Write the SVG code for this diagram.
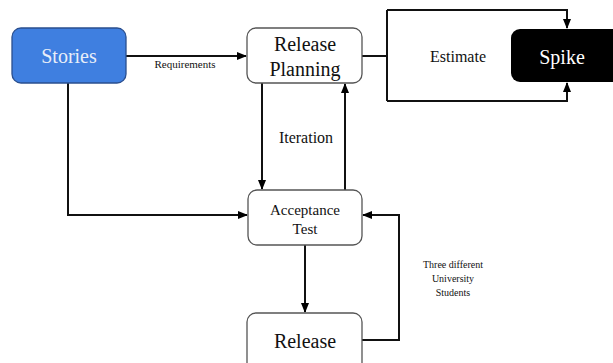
<svg xmlns="http://www.w3.org/2000/svg" width="613" height="363" viewBox="0 0 613 363">
<defs>
<marker id="ah" markerWidth="10" markerHeight="8" refX="9" refY="4" orient="auto" markerUnits="userSpaceOnUse">
<path d="M0,0 L10,4 L0,8 Z" fill="#000"/>
</marker>
<style>
.box{fill:#fff;stroke:#555;stroke-width:1.3}
.ln{fill:none;stroke:#111;stroke-width:2}
.t{fill:#111;text-anchor:middle}
</style>
</defs>
<rect width="613" height="363" fill="#fff"/>
<g id="connectors">
<path class="ln" d="M126,56 H246" marker-end="url(#ah)"/>
<path class="ln" d="M362,56 H387 M387,10 V101"/>
<path class="ln" d="M387,10 H567 V28" marker-end="url(#ah)"/>
<path class="ln" d="M387,101 H567 V83" marker-end="url(#ah)"/>
<path class="ln" d="M68,83 V215 H247" marker-end="url(#ah)"/>
<path class="ln" d="M262,83 V189" marker-end="url(#ah)"/>
<path class="ln" d="M345,190 V84" marker-end="url(#ah)"/>
<path class="ln" d="M305,245 V312" marker-end="url(#ah)"/>
<path class="ln" d="M362,340 H399 V215 H363" marker-end="url(#ah)"/>
</g>
<g font-family="Liberation Serif, Times New Roman, serif">
<text class="t" x="185" y="68" font-size="11">Requirements</text>
<text class="t" x="458" y="62" font-size="16">Estimate</text>
<text class="t" x="306" y="143" font-size="16">Iteration</text>
<text class="t" x="453" y="268" font-size="10">Three different</text>
<text class="t" x="453" y="282" font-size="10">University</text>
<text class="t" x="453" y="296" font-size="10">Students</text>
</g>
<g id="stories" font-family="Liberation Serif, Times New Roman, serif">
<rect x="12" y="28" width="114" height="55" rx="9" fill="#3f7fe0" stroke="#2a4f8f" stroke-width="1.3"/>
<text class="t" x="69" y="63" font-size="20" style="fill:#e8eef8">Stories</text>
</g>
<g id="release-planning" font-family="Liberation Serif, Times New Roman, serif">
<rect class="box" x="247" y="28" width="115" height="55" rx="9"/>
<text class="t" x="305" y="51" font-size="20">Release</text>
<text class="t" x="305" y="76" font-size="20">Planning</text>
</g>
<g id="spike" font-family="Liberation Serif, Times New Roman, serif">
<rect x="511" y="29" width="120" height="53" rx="9" fill="#000"/>
<text class="t" x="562" y="64" font-size="20" style="fill:#fff">Spike</text>
</g>
<g id="acceptance-test" font-family="Liberation Serif, Times New Roman, serif">
<rect class="box" x="248" y="190" width="114" height="55" rx="9"/>
<text class="t" x="305" y="215" font-size="15">Acceptance</text>
<text class="t" x="305" y="234" font-size="15">Test</text>
</g>
<g id="release" font-family="Liberation Serif, Times New Roman, serif">
<rect class="box" x="247" y="313" width="115" height="60" rx="9"/>
<text class="t" x="305" y="348" font-size="20">Release</text>
</g>
</svg>
